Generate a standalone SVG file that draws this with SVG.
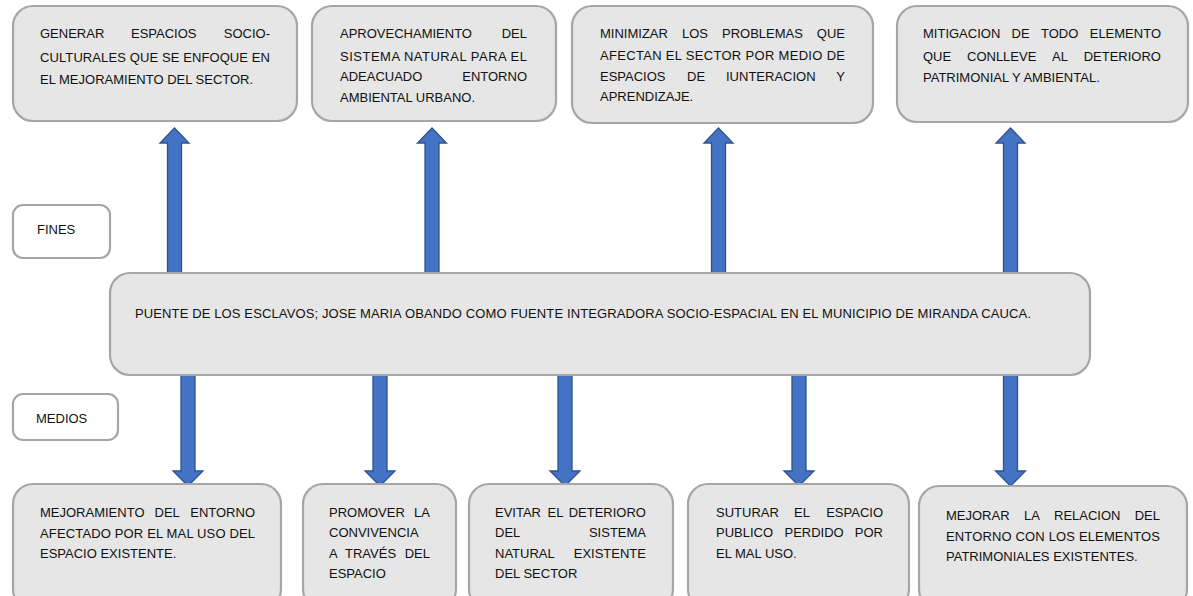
<svg xmlns="http://www.w3.org/2000/svg" width="1193" height="596" viewBox="0 0 1193 596">
<style>
.box{fill:#E6E6E6;stroke:#A6A6A6;stroke-width:2.2}
.lbl{fill:#FFFFFF;stroke:#A6A6A6;stroke-width:2.2}
.arr{fill:#4472C4;stroke:#2F528F;stroke-width:1.3}
text{font-family:"Liberation Sans",Arial,sans-serif;font-size:13px;fill:#111}
.e{text-anchor:end}
</style>
<defs>
<path id="up" d="M0,0 L14.5,15 L7,15 L7,147 L-7,147 L-7,15 L-14.5,15 Z"/>
<path id="down" d="M-7,0 L7,0 L7,98 L15,98 L0,113 L-15,98 L-7,98 Z"/>
</defs>
<rect width="1193" height="596" fill="#FFFFFF"/>
<g id="connectors">
<use href="#up" class="arr" transform="translate(174.5,128)"/>
<use href="#up" class="arr" transform="translate(432,128)"/>
<use href="#up" class="arr" transform="translate(718.5,128)"/>
<use href="#up" class="arr" transform="translate(1010.5,128)"/>
<use href="#down" class="arr" transform="translate(188,373)"/>
<use href="#down" class="arr" transform="translate(380,373)"/>
<use href="#down" class="arr" transform="translate(565,373)"/>
<use href="#down" class="arr" transform="translate(799,373)"/>
<use href="#down" class="arr" transform="translate(1010.5,373)"/>
</g>
<g id="fin1">
<rect class="box" x="13" y="6" width="284" height="115" rx="20"/>
<text y="38.3"><tspan x="40">GENERAR</tspan><tspan x="131">ESPACIOS</tspan><tspan x="270" class="e">SOCIO-</tspan></text>
<text x="40" y="61.5" textLength="230" lengthAdjust="spacing">CULTURALES QUE SE ENFOQUE EN</text>
<text x="40" y="84">EL MEJORAMIENTO DEL SECTOR.</text>
</g>
<g id="fin2">
<rect class="box" x="312" y="6" width="244" height="115" rx="20"/>
<text y="38.3"><tspan x="340">APROVECHAMIENTO</tspan><tspan x="527" class="e">DEL</tspan></text>
<text x="340" y="60.5" textLength="187" lengthAdjust="spacing">SISTEMA NATURAL PARA EL</text>
<text y="81"><tspan x="340">ADEACUADO</tspan><tspan x="527" class="e">ENTORNO</tspan></text>
<text x="340" y="101.5">AMBIENTAL URBANO.</text>
</g>
<g id="fin3">
<rect class="box" x="572" y="6" width="301" height="117" rx="20"/>
<text y="38.3"><tspan x="600">MINIMIZAR</tspan><tspan x="682">LOS</tspan><tspan x="722">PROBLEMAS</tspan><tspan x="845" class="e">QUE</tspan></text>
<text x="600" y="60" textLength="245" lengthAdjust="spacing">AFECTAN EL SECTOR POR MEDIO DE</text>
<text y="80.7"><tspan x="600">ESPACIOS</tspan><tspan x="687">DE</tspan><tspan x="726">IUNTERACION</tspan><tspan x="845" class="e">Y</tspan></text>
<text x="600" y="101.3">APRENDIZAJE.</text>
</g>
<g id="fin4">
<rect class="box" x="897" y="6" width="291" height="116" rx="20"/>
<text y="38.3"><tspan x="923">MITIGACION</tspan><tspan x="1011.5">DE</tspan><tspan x="1041">TODO</tspan><tspan x="1161" class="e">ELEMENTO</tspan></text>
<text y="60.7"><tspan x="923">QUE</tspan><tspan x="967">CONLLEVE</tspan><tspan x="1052">AL</tspan><tspan x="1161" class="e">DETERIORO</tspan></text>
<text x="923" y="81.7">PATRIMONIAL Y AMBIENTAL.</text>
</g>
<g id="fines">
<rect class="lbl" x="13" y="205" width="97" height="53" rx="10"/>
<text x="37" y="234.3">FINES</text>
</g>
<g id="medios">
<rect class="lbl" x="13" y="394" width="105" height="46" rx="10"/>
<text x="36" y="423.3">MEDIOS</text>
</g>
<g id="central">
<rect class="box" x="110" y="273" width="980" height="102" rx="20"/>
<text x="135" y="318.3" textLength="896" lengthAdjust="spacing">PUENTE DE LOS ESCLAVOS; JOSE MARIA OBANDO COMO FUENTE INTEGRADORA SOCIO-ESPACIAL EN EL MUNICIPIO DE MIRANDA CAUCA.</text>
</g>
<g id="medio1">
<rect class="box" x="13" y="484" width="268" height="125" rx="20"/>
<text y="516.7"><tspan x="40">MEJORAMIENTO</tspan><tspan x="154.5">DEL</tspan><tspan x="255" class="e">ENTORNO</tspan></text>
<text x="40" y="537.5" textLength="215" lengthAdjust="spacing">AFECTADO POR EL MAL USO DEL</text>
<text x="40" y="558.3">ESPACIO EXISTENTE.</text>
</g>
<g id="medio2">
<rect class="box" x="303" y="484" width="153" height="125" rx="20"/>
<text y="516.7"><tspan x="329">PROMOVER</tspan><tspan x="430" class="e">LA</tspan></text>
<text x="329" y="537.3">CONVIVENCIA</text>
<text y="558.3"><tspan x="329">A</tspan><tspan x="345">TRAVÉS</tspan><tspan x="430" class="e">DEL</tspan></text>
<text x="329" y="578.3">ESPACIO</text>
</g>
<g id="medio3">
<rect class="box" x="469" y="484" width="204" height="125" rx="20"/>
<text y="516.7"><tspan x="495">EVITAR</tspan><tspan x="547.5">EL</tspan><tspan x="646" class="e">DETERIORO</tspan></text>
<text y="537.3"><tspan x="495">DEL</tspan><tspan x="646" class="e">SISTEMA</tspan></text>
<text y="558.3"><tspan x="495">NATURAL</tspan><tspan x="646" class="e">EXISTENTE</tspan></text>
<text x="495" y="578.3">DEL SECTOR</text>
</g>
<g id="medio4">
<rect class="box" x="688" y="484" width="221" height="125" rx="20"/>
<text y="516.7"><tspan x="716">SUTURAR</tspan><tspan x="794">EL</tspan><tspan x="883" class="e">ESPACIO</tspan></text>
<text y="537.3"><tspan x="716">PUBLICO</tspan><tspan x="784.5">PERDIDO</tspan><tspan x="883" class="e">POR</tspan></text>
<text x="716" y="558.3">EL MAL USO.</text>
</g>
<g id="medio5">
<rect class="box" x="919" y="486" width="268" height="123" rx="20"/>
<text y="520"><tspan x="946">MEJORAR</tspan><tspan x="1024">LA</tspan><tspan x="1054">RELACION</tspan><tspan x="1160" class="e">DEL</tspan></text>
<text x="946" y="540.7" textLength="214" lengthAdjust="spacing">ENTORNO CON LOS ELEMENTOS</text>
<text x="946" y="560.7">PATRIMONIALES EXISTENTES.</text>
</g>
</svg>
